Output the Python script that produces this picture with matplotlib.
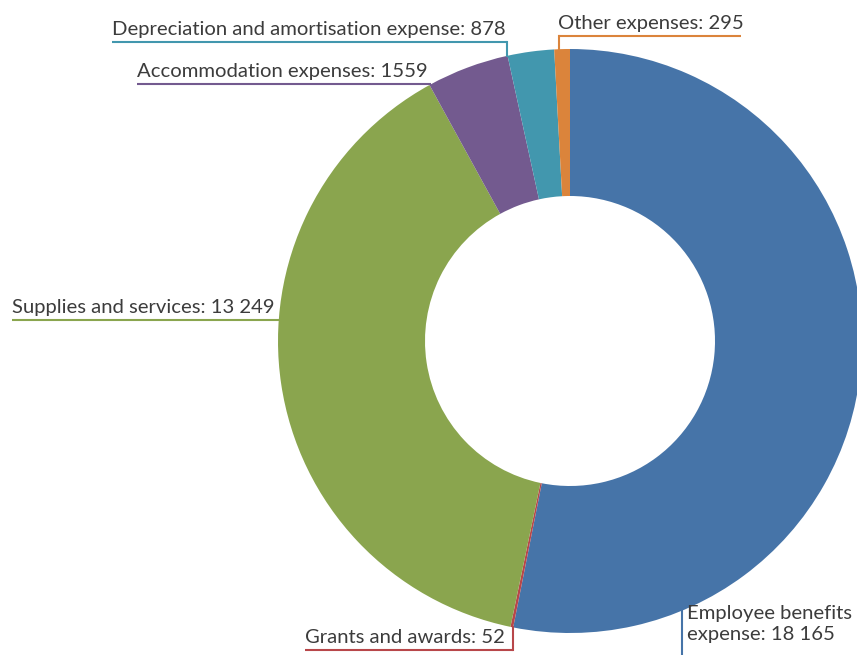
import numpy as np
import matplotlib.pyplot as plt

categories = ["Employee benefits\nexpense", "Grants and awards", "Supplies and services",
              "Accommodation expenses", "Depreciation and amortisation expense", "Other expenses"]
values = [18165, 52, 13249, 1559, 878, 295]
value_labels = ["18 165", "52", "13 249", "1559", "878", "295"]
colors = ["#4674A8", "#B8474A", "#8AA54E", "#735A8F", "#4297AE", "#DB843B"]

W, H = 857, 655
CX, CY, R = 570, 655 - 341, 292
HOLE = 145
TEXT_COLOR = "#3c3c3c"


def arc_y(x, top=True):
    d = np.sqrt(R**2 - (x - CX)**2)
    return CY + d if top else CY - d


def arc_x(y):
    return CX - np.sqrt(R**2 - (y - CY)**2)


def draw_chart():
    fig = plt.figure(figsize=(W / 100, H / 100), dpi=100)
    ax = fig.add_axes([0, 0, 1, 1])

    ax.pie(values, colors=colors, startangle=90, counterclock=False,
           center=(CX, CY), radius=R, frame=True,
           wedgeprops=dict(width=R - HOLE, linewidth=0))
    ax.set_xlim(0, W)
    ax.set_ylim(0, H)
    ax.set_aspect("equal")
    ax.axis("off")

    font = dict(family=["Lato", "DejaVu Sans"], fontsize=14.6, color=TEXT_COLOR)

    def label(text, x0, x1, ly, color):
        ax.plot([x0, x1], [ly, ly], color=color, lw=1.5, solid_capstyle="butt")
        ax.text(x0, ly + 7, text, ha="left", va="baseline", **font)

    # Depreciation: underline then drop to arc
    c = colors[4]
    ly = H - 42
    label(f"{categories[4]}: {value_labels[4]}", 112, 507, ly, c)
    ax.plot([507, 507], [ly, arc_y(507)], color=c, lw=1.5)

    # Other expenses
    c = colors[5]
    ly = H - 36
    label(f"{categories[5]}: {value_labels[5]}", 558, 741, ly, c)
    ax.plot([559, 559], [ly, arc_y(559)], color=c, lw=1.5)

    # Accommodation
    ly = H - 84
    label(f"{categories[3]}: {value_labels[3]}", 137, arc_x(ly), ly, colors[3])

    # Supplies
    ly = H - 320
    label(f"{categories[2]}: {value_labels[2]}", 12, arc_x(ly), ly, colors[2])

    # Grants
    c = colors[1]
    ly = H - 650
    label(f"{categories[1]}: {value_labels[1]}", 305, 513, ly, c)
    ax.plot([513, 513], [ly, arc_y(513, top=False)], color=c, lw=1.5)

    # Employee benefits
    c = colors[0]
    ax.plot([682, 682], [0, arc_y(682, top=False)], color=c, lw=1.5)
    ax.text(687, H - 605, f"{categories[0]}: {value_labels[0]}", ha="left", va="top",
            linespacing=1.3, **font)

    fig.savefig("out.png", dpi=100)


if __name__ == "__main__":
    draw_chart()
